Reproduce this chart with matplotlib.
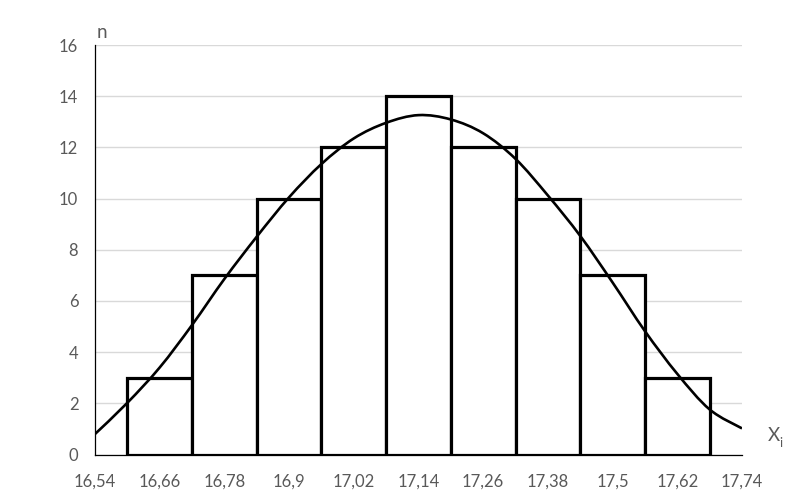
import matplotlib
matplotlib.use("Agg")
import matplotlib.pyplot as plt
from matplotlib.path import Path
from matplotlib.patches import PathPatch

plt.rcParams["font.family"] = ["Lato", "DejaVu Sans"]

# histogram: interval centres and counts
centres = [16.66, 16.78, 16.90, 17.02, 17.14, 17.26, 17.38, 17.50, 17.62]
counts = [3, 7, 10, 12, 14, 12, 10, 7, 3]
bin_width = 0.12

# smoothed curve, values
curve_x = [16.54, 16.60, 16.66, 16.72, 16.78, 16.84, 16.90, 16.96, 17.02, 17.08, 17.14,
           17.20, 17.26, 17.32, 17.38, 17.44, 17.50, 17.56, 17.62, 17.68, 17.74]
curve_y = [0.80, 2.02, 3.40, 5.06, 6.86, 8.51, 10.05, 11.35, 12.35, 12.96, 13.26,
           13.09, 12.55, 11.55, 10.12, 8.54, 6.72, 4.82, 3.15, 1.76, 1.02]

x_ticks = [16.54, 16.66, 16.78, 16.90, 17.02, 17.14, 17.26, 17.38, 17.50, 17.62, 17.74]
x_tick_labels = ["16,54", "16,66", "16,78", "16,9", "17,02", "17,14",
                 "17,26", "17,38", "17,5", "17,62", "17,74"]
y_ticks = [0, 2, 4, 6, 8, 10, 12, 14, 16]


def smooth_path(xs, ys):
    # Catmull-Rom style bezier through the points (like a smoothed line)
    pts = list(zip(xs, ys))
    verts = [pts[0]]
    codes = [Path.MOVETO]
    n = len(pts)
    for i in range(n - 1):
        p0 = pts[i - 1] if i > 0 else pts[i]
        p1 = pts[i]
        p2 = pts[i + 1]
        p3 = pts[i + 2] if i + 2 < n else pts[i + 1]
        c1 = (p1[0] + (p2[0] - p0[0]) / 6, p1[1] + (p2[1] - p0[1]) / 6)
        c2 = (p2[0] - (p3[0] - p1[0]) / 6, p2[1] - (p3[1] - p1[1]) / 6)
        verts += [c1, c2, p2]
        codes += [Path.CURVE4] * 3
    return Path(verts, codes)


fig = plt.figure(figsize=(8.02, 4.93), dpi=100)
ax = fig.add_axes([95 / 802, 38.5 / 493, 647 / 802, 409.5 / 493])

ax.bar(centres, counts, width=bin_width, facecolor="white", edgecolor="black",
       linewidth=2.3, zorder=3)
ax.add_patch(PathPatch(smooth_path(curve_x, curve_y), facecolor="none",
                       edgecolor="black", linewidth=1.9, zorder=4))

ax.set_xlim(16.54, 17.74)
ax.set_ylim(0, 16)
ax.set_xticks(x_ticks)
ax.set_xticklabels(x_tick_labels)
ax.set_yticks(y_ticks)
ax.tick_params(length=0, labelsize=12, labelcolor="#595959")
ax.tick_params(axis="x", pad=14)
ax.tick_params(axis="y", pad=12)

ax.grid(axis="y", color="#d9d9d9", linewidth=1, zorder=0)
ax.set_axisbelow(True)
for side in ["top", "right"]:
    ax.spines[side].set_visible(False)
for side in ["left", "bottom"]:
    ax.spines[side].set_color("black")
    ax.spines[side].set_linewidth(0.9)
    ax.spines[side].set_zorder(2)

fig.text(97 / 802, (493 - 38) / 493, "n", fontsize=13.5, color="#595959", va="baseline")
fig.text(768 / 802, (493 - 441) / 493, "X", fontsize=13.5, color="#595959", va="baseline")
fig.text(779 / 802, (493 - 447) / 493, "i", fontsize=9, color="#595959", va="baseline")

fig.savefig("out.png", dpi=100)
